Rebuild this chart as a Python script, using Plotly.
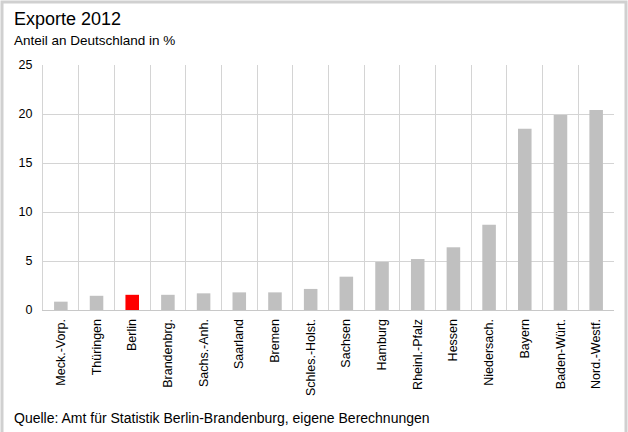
import plotly.graph_objects as go

categories = ["Meck.-Vorp.", "Thüringen", "Berlin", "Brandenbrg.", "Sachs.-Anh.",
              "Saarland", "Bremen", "Schles.-Holst.", "Sachsen", "Hamburg",
              "Rheinl.-Pfalz", "Hessen", "Niedersach.", "Bayern", "Baden-Würt.",
              "Nord.-Westf."]
values = [0.85, 1.45, 1.55, 1.55, 1.7, 1.8, 1.8, 2.15, 3.4, 4.9, 5.2, 6.4, 8.7, 18.5, 19.9, 20.4]
highlight = "Berlin"
y_ticks = [0, 5, 10, 15, 20, 25]

colors = ["#ff0000" if c == highlight else "#c0c0c0" for c in categories]

W, H = 628, 432
L, R, T, B = 43, 14, 65, 122
pw, ph = W - L - R, H - T - B

fig = go.Figure(go.Bar(x=categories, y=values, marker=dict(color=colors, line=dict(width=0)),
                       hoverinfo="x+y"))

fig.update_layout(
    width=W, height=H,
    margin=dict(l=L, r=R, t=T, b=B, pad=0, autoexpand=False),
    paper_bgcolor="white", plot_bgcolor="white",
    font=dict(family="Liberation Sans, Arial, sans-serif", color="#000000", size=12),
    bargap=0.62,
    showlegend=False,
    xaxis=dict(type="category", tickson="boundaries", showgrid=True, gridcolor="#d4d4d4",
               gridwidth=1, tickangle=-90, ticks="", showline=True, linecolor="#c8c8c8",
               linewidth=1, mirror=False, tickfont=dict(size=12.5), ticklabelstandoff=3,
               automargin=False, range=[-0.5, len(categories) - 0.5]),
    yaxis=dict(range=[0, 25], tickvals=y_ticks, showgrid=True, gridcolor="#d4d4d4",
               gridwidth=1, zeroline=False, ticks="", showline=True, linecolor="#d4d4d4",
               tickfont=dict(size=12.5), ticklabelstandoff=7, automargin=False),
    annotations=[
        dict(text="Exporte 2012", xref="paper", yref="paper",
             x=(12 - L) / pw, y=(H - B - 7) / ph, xanchor="left", yanchor="top",
             showarrow=False, font=dict(size=18)),
        dict(text="Anteil an Deutschland in %", xref="paper", yref="paper",
             x=(12 - L) / pw, y=(H - B - 31) / ph, xanchor="left", yanchor="top",
             showarrow=False, font=dict(size=13.5)),
        dict(text="Quelle: Amt für Statistik Berlin-Brandenburg, eigene Berechnungen",
             xref="paper", yref="paper",
             x=(12 - L) / pw, y=(H - B - 408) / ph, xanchor="left", yanchor="top",
             showarrow=False, font=dict(size=14)),
    ],
    shapes=[
        dict(type="rect", xref="paper", yref="paper",
             x0=(2 - L) / pw, x1=(626 - L) / pw,
             y0=(H - B - 440) / ph, y1=(H - B - 2) / ph,
             line=dict(color="#d0d0d0", width=3), layer="above"),
    ],
)

fig.write_html("out.html", config={"displayModeBar": False},
               post_script="document.body.style.margin='0';document.body.style.padding='0';")
